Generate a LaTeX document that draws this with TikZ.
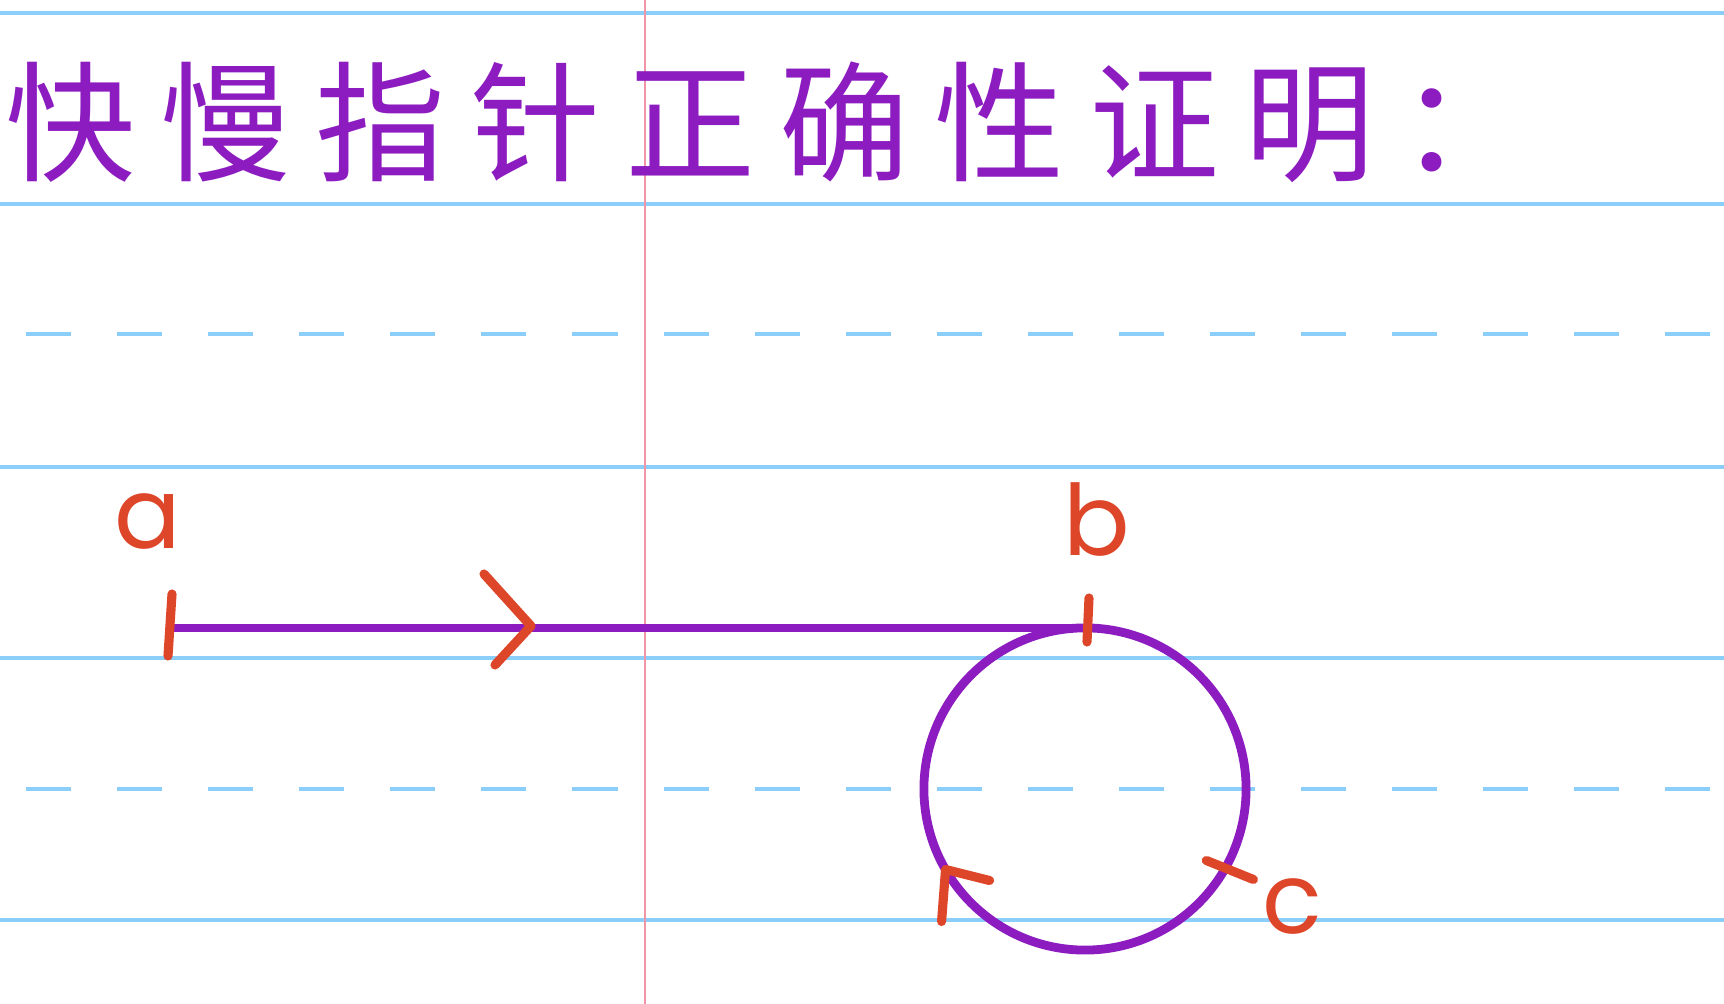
\documentclass[tikz,border=0pt]{standalone}
\usepackage{fontspec}
\newfontfamily\cjk{Noto Sans CJK SC}
\newfontfamily\hand{Poppins}
\usetikzlibrary{positioning, calc}
\definecolor{penpurple}{RGB}{140,28,192}
\definecolor{penred}{RGB}{222,70,42}
\definecolor{ruleblue}{RGB}{140,206,250}
\definecolor{marginred}{RGB}{240,150,168}

\begin{document}
\begin{tikzpicture}[
    x=0.01cm, y=-0.01cm,
    rule/.style={draw=ruleblue, line width=0.9pt},
    halfrule/.style={rule, dash pattern=on 12.8pt off 13.1pt},
    margin/.style={draw=marginred, line width=0.7pt},
    pointer/.style={draw=penpurple, line width=2.5pt},
    tick/.style={draw=penred, line width=2.6pt, line cap=round, line join=round},
    ptlabel/.style={text=penred, inner sep=0pt, font=\hand\fontsize{28}{28}\selectfont},
    heading/.style={text=penpurple, inner sep=0pt, anchor=west, font=\cjk\fontsize{37}{37}\selectfont\addfontfeatures{LetterSpace=19}}
]

% --- PAPIER ---
\fill[white] (0,0) rectangle (1724,1004);
\useasboundingbox (0,0) rectangle (1724,1004);

\foreach \y in {13,204,467,658,920}
    \draw[rule] (0,\y) -- (1724,\y);
\foreach \y in {334,789}
    \draw[halfrule] (26,\y) -- (1724,\y);
\draw[margin] (645,0) -- (645,1004);

% --- UEBERSCHRIFT ---
\node[heading] (title) at (5,122) {快慢指针正确性证明：};

% --- PUNKTE ---
\coordinate (A) at (170,628);
\coordinate (B) at (1087,628);
\coordinate (O) at (1085,789);
\coordinate (C) at ($(O)+(30:161)$);
\coordinate (R) at ($(O)+(150:161)$);

% --- WEG ---
\draw[pointer] (A) -- (B);
\draw[pointer] (O) circle[radius=1.61cm];

% Markierungen
\draw[tick] ($(A)+(2,-34)$) -- ($(A)+(-2,28)$);
\draw[tick] ($(B)+(2,-30)$) -- ($(B)+(0,14)$);
\draw[tick] ($(C)+(-18,-9)$) -- ($(C)+(29,10)$);

% Pfeilspitzen
\draw[tick] (484,574) -- (531,626) -- (495,665);
\draw[tick] ($(R)+(-4,52)$) -- (R) -- ($(R)+(44,11)$);

% --- BESCHRIFTUNG ---
\node[ptlabel] (la) at (148,522) {a};
\node[ptlabel] (lb) at (1097,520) {b};
\node[ptlabel] (lc) at (1292,907) {c};

\end{tikzpicture}
\end{document}
